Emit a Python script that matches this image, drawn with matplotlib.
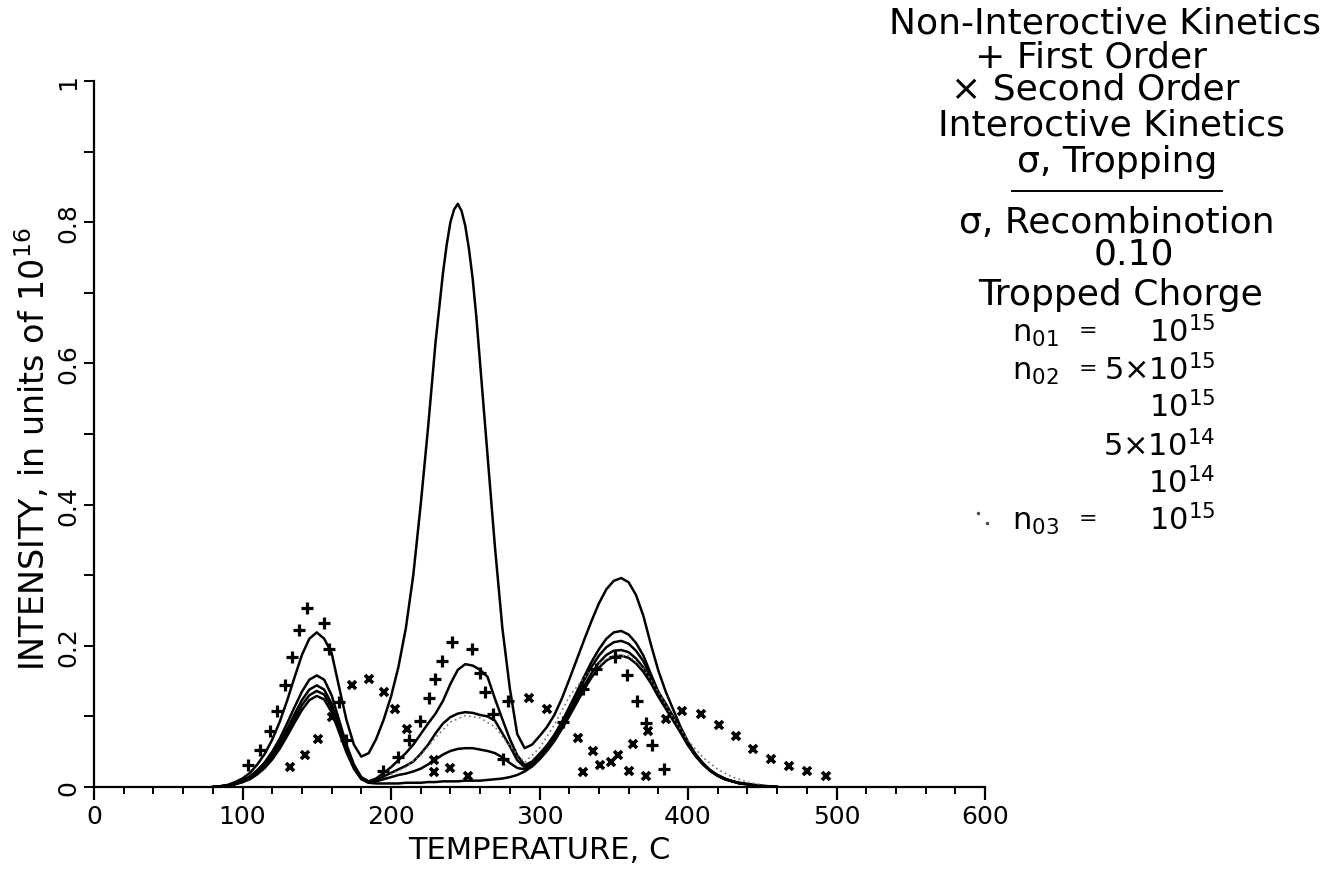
import matplotlib
matplotlib.use("Agg")
import matplotlib.pyplot as plt
from matplotlib.lines import Line2D
import numpy as np

# temperature grid shared by the computed glow curves (C)
temp = list(range(80, 465, 5))

# interactive kinetics, n02 = 5e15 (own grid, finer round the big peak)
big_temp = [80, 85, 90, 95, 100, 105, 110, 115, 120, 125, 130, 135, 140, 145, 150,
            155, 160, 165, 170, 175, 180, 185, 190, 195, 200, 205, 210, 215, 220,
            225, 230, 235, 237.5, 240, 242.5, 245, 247.5, 250, 252.5, 255, 257.5,
            260, 265, 270, 275, 280, 285, 290, 295, 300, 305, 310, 315, 320, 325,
            330, 335, 340, 345, 350, 355, 360, 365, 370, 375, 380, 385, 390, 395,
            400, 405, 410, 415, 420, 425, 430, 435, 440, 445, 450, 455, 460]
n02_5e15 = [0.000, 0.001, 0.003, 0.007, 0.012, 0.020, 0.032, 0.047, 0.067, 0.092,
            0.122, 0.155, 0.187, 0.210, 0.219, 0.210, 0.190, 0.142, 0.095, 0.060,
            0.043, 0.048, 0.068, 0.095, 0.128, 0.170, 0.225, 0.300, 0.400, 0.510,
            0.630, 0.728, 0.768, 0.800, 0.818, 0.826, 0.816, 0.795, 0.762, 0.720,
            0.665, 0.600, 0.470, 0.340, 0.225, 0.140, 0.075, 0.055, 0.060, 0.072,
            0.085, 0.102, 0.125, 0.152, 0.180, 0.208, 0.235, 0.260, 0.280, 0.292,
            0.296, 0.290, 0.272, 0.242, 0.202, 0.165, 0.135, 0.110, 0.085, 0.064,
            0.047, 0.034, 0.024, 0.017, 0.012, 0.008, 0.006, 0.004, 0.003, 0.002,
            0.001, 0.000]
# n02 = 1e15
n02_1e15 = [0.000, 0.001, 0.002, 0.005, 0.009, 0.015, 0.024, 0.035, 0.050, 0.068,
            0.090, 0.113, 0.135, 0.152, 0.158, 0.152, 0.130, 0.095, 0.060, 0.032,
            0.014, 0.008, 0.012, 0.020, 0.028, 0.038, 0.048, 0.060, 0.075, 0.090,
            0.104, 0.122, 0.146, 0.166, 0.174, 0.172, 0.166, 0.156, 0.125, 0.096,
            0.068, 0.045, 0.031, 0.036, 0.047, 0.059, 0.074, 0.092, 0.113, 0.134,
            0.156, 0.177, 0.195, 0.210, 0.219, 0.221, 0.216, 0.204, 0.186, 0.160,
            0.135, 0.118, 0.100, 0.080, 0.061, 0.045, 0.033, 0.023, 0.016, 0.011,
            0.008, 0.005, 0.004, 0.002, 0.001, 0.001, 0.000]
# n02 = 5e14
n02_5e14 = [0.000, 0.001, 0.002, 0.004, 0.008, 0.013, 0.021, 0.031, 0.045, 0.062,
            0.082, 0.103, 0.123, 0.138, 0.144, 0.138, 0.118, 0.086, 0.054, 0.029,
            0.013, 0.007, 0.010, 0.015, 0.020, 0.025, 0.030, 0.036, 0.047, 0.060,
            0.076, 0.090, 0.099, 0.104, 0.106, 0.105, 0.102, 0.100, 0.094, 0.076,
            0.058, 0.038, 0.028, 0.033, 0.044, 0.056, 0.071, 0.089, 0.109, 0.130,
            0.151, 0.170, 0.186, 0.198, 0.205, 0.207, 0.203, 0.193, 0.178, 0.156,
            0.133, 0.115, 0.098, 0.079, 0.060, 0.045, 0.033, 0.023, 0.016, 0.011,
            0.008, 0.005, 0.004, 0.002, 0.001, 0.001, 0.000]
# n02 = 1e14
n02_1e14 = [0.000, 0.001, 0.002, 0.004, 0.007, 0.012, 0.019, 0.029, 0.042, 0.058,
            0.077, 0.097, 0.116, 0.130, 0.136, 0.131, 0.112, 0.082, 0.052, 0.028,
            0.012, 0.006, 0.008, 0.011, 0.014, 0.017, 0.019, 0.022, 0.026, 0.032,
            0.039, 0.046, 0.051, 0.054, 0.055, 0.055, 0.053, 0.051, 0.048, 0.042,
            0.034, 0.027, 0.025, 0.030, 0.041, 0.053, 0.068, 0.085, 0.104, 0.124,
            0.143, 0.161, 0.176, 0.187, 0.193, 0.194, 0.191, 0.182, 0.169, 0.151,
            0.130, 0.113, 0.096, 0.078, 0.060, 0.045, 0.033, 0.023, 0.016, 0.011,
            0.008, 0.005, 0.004, 0.002, 0.001, 0.001, 0.000]
# lowest curve, second peak almost absent
n02_low = [0.000, 0.001, 0.002, 0.004, 0.007, 0.011, 0.018, 0.027, 0.039, 0.054,
           0.072, 0.091, 0.109, 0.123, 0.129, 0.124, 0.106, 0.078, 0.049, 0.026,
           0.011, 0.006, 0.005, 0.005, 0.005, 0.005, 0.006, 0.006, 0.006, 0.007,
           0.007, 0.008, 0.008, 0.008, 0.009, 0.009, 0.009, 0.010, 0.011, 0.012,
           0.014, 0.017, 0.022, 0.029, 0.039, 0.051, 0.065, 0.082, 0.100, 0.119,
           0.138, 0.155, 0.169, 0.179, 0.185, 0.186, 0.183, 0.175, 0.163, 0.147,
           0.128, 0.111, 0.094, 0.077, 0.059, 0.044, 0.032, 0.023, 0.016, 0.011,
           0.008, 0.005, 0.004, 0.002, 0.001, 0.001, 0.000]

# dotted curve, n03
n03_temp = [200, 210, 220, 230, 240, 250, 260, 270, 280, 290, 300, 310, 320, 330,
            340, 350, 360, 370, 380, 390, 400, 410, 420, 430, 440, 450]
n03_int = [0.018, 0.028, 0.045, 0.070, 0.092, 0.101, 0.098, 0.085, 0.058, 0.035,
           0.055, 0.088, 0.128, 0.155, 0.175, 0.186, 0.186, 0.168, 0.135, 0.098,
           0.066, 0.042, 0.025, 0.014, 0.007, 0.003]

# non-interactive kinetics, first order (+)
first_t = [104, 112, 118.5, 123.5, 128.3, 133.3, 138.2, 143.4, 155.1, 158.5, 165.2,
           170, 194.9, 204.5, 212.4, 219.2, 225.4, 229.9, 234.4, 241.2, 254.7, 259.6,
           263, 268.6, 278.7, 275.3, 315.8, 329.3, 338.3, 350.6, 359, 365.7, 371.5,
           376, 383.7]
first_i = [0.031, 0.052, 0.080, 0.108, 0.144, 0.184, 0.223, 0.254, 0.232, 0.196, 0.120,
           0.067, 0.023, 0.042, 0.066, 0.094, 0.126, 0.153, 0.179, 0.206, 0.195, 0.162,
           0.134, 0.103, 0.122, 0.040, 0.092, 0.139, 0.167, 0.184, 0.159, 0.122, 0.091,
           0.059, 0.025]

# second order (x)
second_t = [132, 142, 151, 160, 174, 185, 195, 203, 211, 229, 229, 240, 252, 293, 305,
            326, 329, 336, 341, 348, 353, 360, 363, 372, 373, 385, 396, 409, 421, 432,
            444, 456, 468, 480, 493]
second_i = [0.028, 0.046, 0.068, 0.099, 0.144, 0.153, 0.134, 0.110, 0.082, 0.038, 0.021,
            0.027, 0.016, 0.126, 0.111, 0.069, 0.021, 0.051, 0.031, 0.035, 0.046, 0.022,
            0.061, 0.015, 0.079, 0.097, 0.108, 0.103, 0.088, 0.072, 0.054, 0.040, 0.030,
            0.022, 0.016]

y_ticks = [0, 0.2, 0.4, 0.6, 0.8, 1]
y_ticklabels = ["0", "0.2", "0.4", "0.6", "0.8", "1"]

W, H = 1334, 879
fig = plt.figure(figsize=(W / 100, H / 100), dpi=100)
ax = fig.add_axes([94 / W, 1 - 788 / H, 891 / W, 706 / H])


def fx(x):
    return x / W


def fy(y):
    return 1 - y / H


ax.plot(big_temp, n02_5e15, color="black", lw=1.8, solid_joinstyle="round")
for curve in [n02_1e15, n02_5e14, n02_1e14, n02_low]:
    ax.plot(temp, curve, color="black", lw=1.8, solid_joinstyle="round")
ax.plot(n03_temp, n03_int, color="0.45", lw=1.2, ls=(0, (1, 2)))

ax.plot(first_t, first_i, ls="none", marker="+", ms=8, mew=2.3, color="black")
ax.plot(second_t, second_i, ls="none", marker="x", ms=6, mew=2.6, color="black")

ax.set_xlim(0, 600)
ax.set_ylim(0, 1)
for s in ["top", "right"]:
    ax.spines[s].set_visible(False)
for s in ["left", "bottom"]:
    ax.spines[s].set_linewidth(1.6)

ax.set_xticks(range(0, 601, 100))
ax.set_xticks(range(0, 601, 20), minor=True)
ax.set_yticks(y_ticks)
ax.set_yticklabels(y_ticklabels, rotation=90, va="center")
ax.set_yticks(np.arange(0, 1.01, 0.1), minor=True)
ax.tick_params(axis="x", which="major", direction="out", length=9, width=1.6,
               labelsize=18, pad=3)
ax.tick_params(axis="x", which="minor", direction="out", length=5, width=1.4)
ax.tick_params(axis="y", which="both", direction="out", length=7, width=1.4,
               labelsize=18, pad=3)

ax.set_xlabel("TEMPERATURE, C", fontsize=22)
ax.xaxis.set_label_coords(0.5, -0.068)
ax.set_ylabel(r"INTENSITY, in units of 10$^{16}$", fontsize=24)
ax.yaxis.set_label_coords(-0.047, 0.48)

# key on the right, placed by baseline
fs = 26
fig.text(fx(889), fy(33), "Non-Interoctive Kinetics", fontsize=fs, ha="left", va="baseline")
fig.text(fx(1091), fy(67), "+ First Order", fontsize=fs, ha="center", va="baseline")
fig.text(fx(1095), fy(100), "× Second Order", fontsize=fs, ha="center", va="baseline")
fig.text(fx(1111), fy(135), "Interoctive Kinetics", fontsize=fs, ha="center", va="baseline")
fig.text(fx(1117), fy(172), "σ, Tropping", fontsize=fs, ha="center", va="baseline")
fig.add_artist(Line2D([fx(1012), fx(1222)], [fy(192), fy(192)], color="black", lw=1.4))
fig.text(fx(1117), fy(233), "σ, Recombinotion", fontsize=fs, ha="center", va="baseline")
fig.text(fx(1134), fy(265), "0.10", fontsize=fs, ha="center", va="baseline")
fig.text(fx(1120), fy(305), "Tropped Chorge", fontsize=fs, ha="center", va="baseline")

vfs = 22
row_base = [342, 380, 417, 456, 493, 530]
values = [r"10$^{15}$", r"5×10$^{15}$", r"10$^{15}$", r"5×10$^{14}$", r"10$^{14}$",
          r"10$^{15}$"]
for v, y in zip(values, row_base):
    fig.text(fx(1215), fy(y), v, fontsize=vfs, ha="right", va="baseline")

for lab, y in zip([r"n$_{01}$", r"n$_{02}$", r"n$_{03}$"],
                  [row_base[0], row_base[1], row_base[5]]):
    fig.text(fx(1012), fy(y), lab, fontsize=vfs, ha="left", va="baseline")
    fig.text(fx(1088), fy(y - 5), "=", fontsize=vfs - 6, ha="center", va="baseline")
fig.add_artist(Line2D([fx(978), fx(987)], [fy(514), fy(524)], ls="none", marker=".",
                      ms=3, color="0.3"))

fig.savefig("out.png", dpi=100)
